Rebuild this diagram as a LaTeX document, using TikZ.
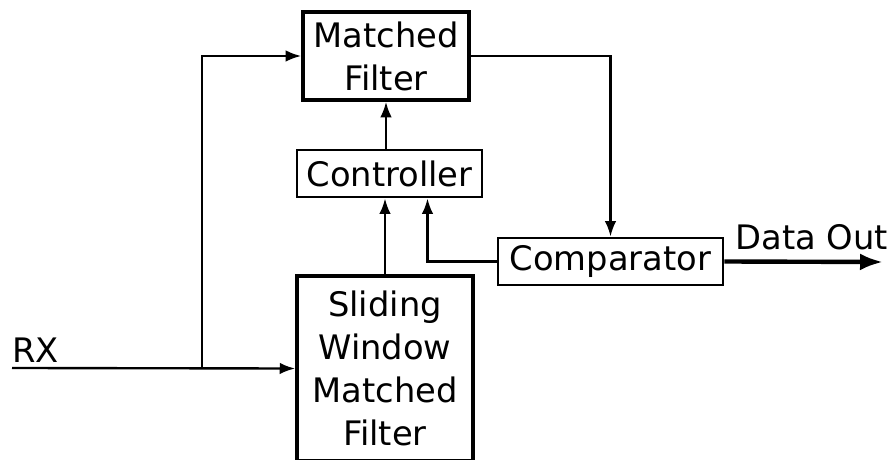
\documentclass[tikz,border=0pt]{standalone}
\usepackage{fontspec}
\setmainfont{DejaVu Sans}
\usetikzlibrary{positioning,arrows.meta}

\tikzset{
  block/.style={draw=black, line width=2pt, inner sep=0pt, align=center, font=\fontsize{19.2}{24.4}\selectfont},
  thinblock/.style={block, line width=1.6pt},
  link/.style={-{Latex[length=3.1mm,width=2.3mm]}, line width=1.35pt},
  label/.style={inner sep=0pt, anchor=base west, font=\fontsize{19.2}{24.4}\selectfont}
}

\begin{document}
\begin{tikzpicture}
\useasboundingbox (0,0) rectangle (17.82,9.18);
\node[block, minimum width=3.32cm, minimum height=1.76cm] (mf) at (7.72,8.06) {Matched\\Filter};
\node[thinblock, minimum width=3.7cm, minimum height=0.94cm] (ctrl) at (7.79,5.71) {Controller};
\node[block, minimum width=3.52cm, minimum height=3.70cm] (swmf) at (7.70,1.81) {Sliding\\Window\\Matched\\Filter};
\node[thinblock, minimum width=4.5cm, minimum height=0.94cm] (comp) at (12.21,3.95) {Comparator};
\coordinate (rx) at (0.24,1.82);
\coordinate (split) at (4.04,1.82);
\coordinate (dout) at (17.66,3.94);
\node[label] (rxlabel) at (0.24,1.94) {RX};
\node[label] (doutlabel) at (14.70,4.18) {Data Out};
% input to both filters
\draw[link] (rx) -- (swmf.west);
\draw[link] (split) |- (mf.west);
% filter outputs
\draw[link] (mf.east) -| (comp.north);
\draw[link] (swmf.north) -- (swmf.north |- ctrl.south);
\draw[link] (mf.south |- ctrl.north) -- (mf.south);
\draw[link] (comp.west) -| ([xshift=0.76cm]ctrl.south);
% decision out
\draw[-{Latex[length=4.6mm,width=3.4mm]}, line width=2.5pt] (comp.east) -- (dout);
\end{tikzpicture}
\end{document}
